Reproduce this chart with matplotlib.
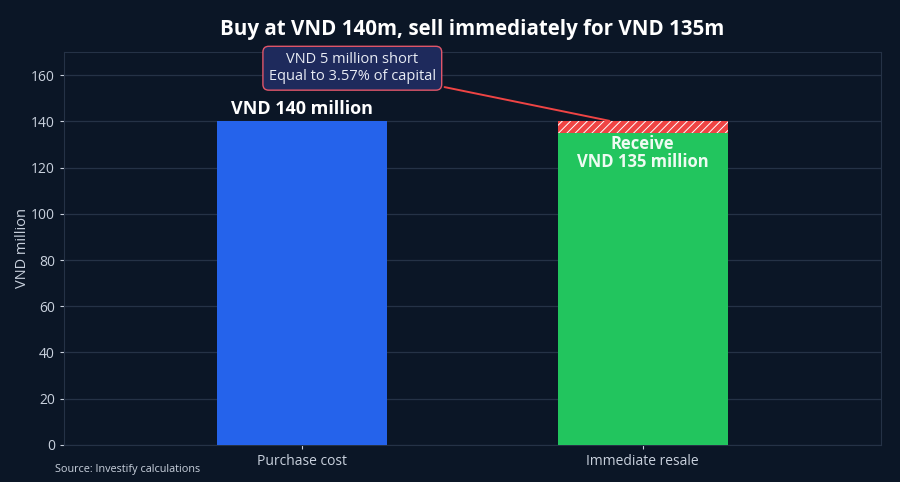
import matplotlib
matplotlib.use("Agg")
from matplotlib import pyplot as plt

plt.rcParams['font.family'] = ['Open Sans', 'DejaVu Sans']
plt.rcParams['hatch.color'] = 'white'
plt.rcParams['hatch.linewidth'] = 0.7

categories = ['Purchase cost', 'Immediate resale']
values = [140, 135]
shortfall = 5
capital = 140

bg = '#0b1626'
fg = '#c9d1dd'
grid_c = '#253246'

fig, ax = plt.subplots(figsize=(9, 4.82), dpi=100)
fig.patch.set_facecolor(bg)
ax.set_facecolor(bg)
fig.subplots_adjust(left=0.071, right=0.979, top=0.892, bottom=0.077)

x = list(range(len(categories)))
ax.bar(x[0], values[0], width=0.5, color='#2563eb', zorder=3)
ax.bar(x[1], values[1], width=0.5, color='#22c55e', zorder=3)
ax.bar(x[1], shortfall, bottom=values[1], width=0.5, color='#ef4444',
       hatch='////', edgecolor='white', linewidth=0, zorder=3)

ax.set_xlim(-0.70, 1.70)
ax.set_ylim(0, 170)
ax.set_xticks(x)
ax.set_xticklabels(categories)
ax.set_yticks(range(0, 161, 20))
ax.grid(axis='y', color=grid_c, linewidth=0.9, zorder=0)
ax.tick_params(colors=fg, labelsize=10, length=3)
for s in ax.spines.values():
    s.set_color(grid_c)
ax.set_ylabel('VND million', color=fg, fontsize=10.5, labelpad=0.5)

ax.set_title('Buy at VND 140m, sell immediately for VND 135m', color='white',
             fontsize=14.8, fontweight='bold', pad=12)

ax.text(x[0], values[0] + 1.5, 'VND 140 million', ha='center', va='bottom',
        color='white', fontsize=13, fontweight='bold', zorder=4)
ax.text(x[1], values[1] - 0.8, 'Receive\nVND 135 million', ha='center', va='top',
        color='#eefbf2', fontsize=12, fontweight='bold', linespacing=1.05, zorder=4)

pct = shortfall / capital * 100
ax.annotate(f'VND {shortfall} million short\nEqual to {pct:.2f}% of capital',
            xy=(0.91, values[0]), xytext=(0.147, 163),
            ha='center', va='center', color='#e8ecf4', fontsize=10.5,
            bbox=dict(boxstyle='round,pad=0.4', facecolor='#1e2a5c',
                      edgecolor='#e0566a', linewidth=1),
            arrowprops=dict(arrowstyle='-', color='#ef4444', linewidth=1.4),
            zorder=5)

fig.text(0.061, 0.02, 'Source: Investify calculations', color=fg, fontsize=7.8)

plt.savefig('out.png', facecolor=bg)
